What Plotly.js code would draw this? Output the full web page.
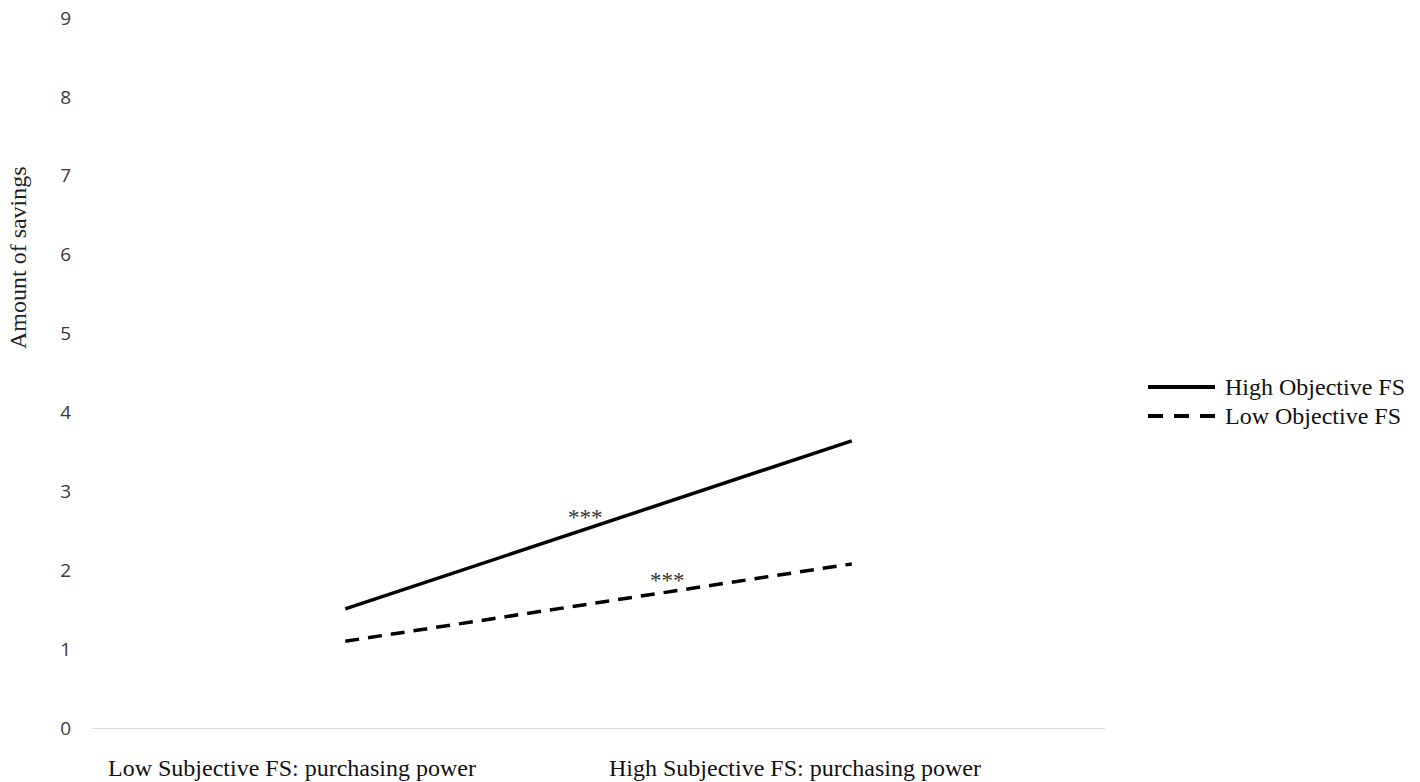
<!DOCTYPE html>
<html>
<head>
<meta charset="utf-8">
<script src="https://cdn.plot.ly/plotly-3.0.1.min.js"></script>
<style>html,body{margin:0;padding:0;background:#fff;}#chart{width:1420px;height:782px;}</style>
</head>
<body>
<div id="chart"></div>
<script>
const categories = ["Low Subjective FS: purchasing power", "High Subjective FS: purchasing power"];
const seriesNames = ["High Objective FS", "Low Objective FS"];
const highObjective = [1.51, 3.64];
const lowObjective = [1.10, 2.08];
const sigLabels = ["***", "***"];
const yTicks = [0, 1, 2, 3, 4, 5, 6, 7, 8, 9];
const yTitle = "Amount of savings";

const serif = "Liberation Serif, Times New Roman, serif";

const traces = [
  {x: categories, y: highObjective, name: seriesNames[0], mode: "lines",
   line: {color: "#000", width: 3.5}, showlegend: false, hoverinfo: "skip"},
  {x: categories, y: lowObjective, name: seriesNames[1], mode: "lines",
   line: {color: "#000", width: 3.5, dash: "14px,9px"}, showlegend: false, hoverinfo: "skip"}
];

const annotations = [
  {xref: "paper", yref: "paper", x: -0.073, y: 0.662, text: yTitle, textangle: -90,
   showarrow: false, font: {family: serif, size: 24, color: "#222"}, xanchor: "center", yanchor: "middle"},
  {xref: "x", yref: "paper", x: categories[0], y: -0.056, xshift: -53, text: categories[0],
   showarrow: false, font: {family: serif, size: 24, color: "#111"}, xanchor: "center", yanchor: "middle"},
  {xref: "x", yref: "paper", x: categories[1], y: -0.056, xshift: -57, text: categories[1],
   showarrow: false, font: {family: serif, size: 24, color: "#111"}, xanchor: "center", yanchor: "middle"},
  {xref: "paper", yref: "y", x: 0.487, y: (728 - 517) / (710 / 9), text: sigLabels[0],
   showarrow: false, font: {family: serif, size: 23, color: "#333"}, xanchor: "center", yanchor: "middle"},
  {xref: "paper", yref: "y", x: 0.568, y: (728 - 580) / (710 / 9), text: sigLabels[1],
   showarrow: false, font: {family: serif, size: 23, color: "#333"}, xanchor: "center", yanchor: "middle"}
];

// custom legend (longer line samples than Plotly's built-in legend)
const legX0 = (1148 - 92) / 1013, legX1 = (1215 - 92) / 1013, legTx = (1223 - 92) / 1013;
const legY = [(728 - 387) / 710, (728 - 416) / 710];
const shapes = [
  {type: "line", xref: "paper", yref: "paper", x0: legX0, x1: legX1, y0: legY[0], y1: legY[0],
   line: {color: "#000", width: 3.8}},
  {type: "line", xref: "paper", yref: "paper", x0: legX0, x1: legX1, y0: legY[1], y1: legY[1],
   line: {color: "#000", width: 3.8, dash: "15px,11px"}}
];
seriesNames.forEach((n, i) => annotations.push({
  xref: "paper", yref: "paper", x: legTx, y: legY[i], text: n, showarrow: false,
  font: {family: serif, size: 24, color: "#111"}, xanchor: "left", yanchor: "middle"
}));

const layout = {
  width: 1420, height: 782,
  margin: {l: 92, r: 315, t: 18, b: 54},
  paper_bgcolor: "#fff", plot_bgcolor: "#fff",
  showlegend: false,
  xaxis: {type: "category", range: [-0.5, 1.5], showgrid: false, zeroline: false,
          showline: true, linecolor: "#d9d9d9", linewidth: 1, showticklabels: false, ticks: ""},
  yaxis: {range: [0, 9], tickvals: yTicks, ticktext: yTicks.map(String), showgrid: false,
          zeroline: false, showline: false, ticks: "", ticklabelstandoff: 20,
          tickfont: {family: "Open Sans, Liberation Sans, sans-serif", size: 19, color: "#3a3a3a"}},
  annotations: annotations,
  shapes: shapes
};

Plotly.newPlot("chart", traces, layout, {displayModeBar: false, staticPlot: true});
</script>
</body>
</html>
